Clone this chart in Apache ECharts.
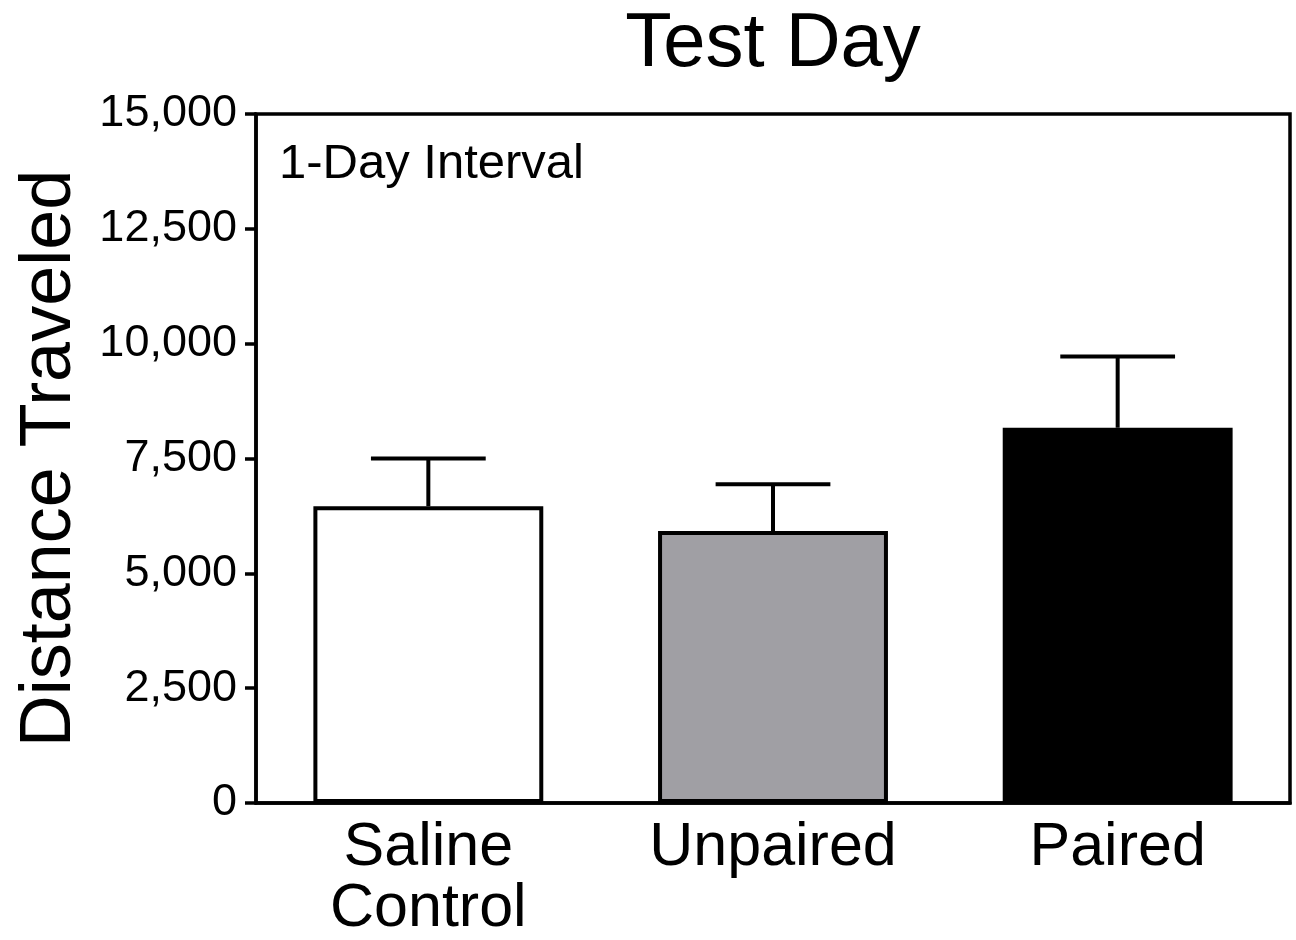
<!DOCTYPE html>
<html>
<head>
<meta charset="utf-8">
<script src="https://cdn.jsdelivr.net/npm/echarts@6/dist/echarts.min.js"></script>
<style>
  html, body { margin: 0; padding: 0; background: #fff; }
  #chart { width: 1296px; height: 940px; }
</style>
</head>
<body>
<div id="chart"></div>
<script>
var categories = ['Saline\nControl', 'Unpaired', 'Paired'];
var means = [6460, 5920, 8170];
var errorTops = [7500, 6940, 9720];
var barColors = ['#ffffff', '#a09fa4', '#000000'];
var yTicks = [0, 2500, 5000, 7500, 10000, 12500, 15000];

var font = 'Liberation Sans, Arial, Helvetica, sans-serif';
var chart = echarts.init(document.getElementById('chart'));

var option = {
    animation: false,
    title: {
        text: 'Test Day',
        left: 768,
        textAlign: 'center',
        top: 2,
        textStyle: { color: '#000', fontFamily: font, fontWeight: 'normal', fontSize: 76 }
    },
    graphic: [{
        type: 'text',
        left: 279,
        top: 140,
        style: { text: '1-Day Interval', fill: '#000', font: '49px ' + font }
    }],
    grid: {
        left: 256, right: 6, top: 114, bottom: 135,
        show: true, borderColor: '#000', borderWidth: 3.5, backgroundColor: 'transparent'
    },
    xAxis: {
        type: 'category',
        data: categories,
        axisLine: { lineStyle: { color: '#000', width: 3.5 } },
        axisTick: { show: false },
        axisLabel: { color: '#000', fontFamily: font, fontSize: 61, lineHeight: 61, margin: 15, interval: 0 }
    },
    yAxis: {
        type: 'value',
        min: 0, max: 15000, interval: 2500,
        name: 'Distance Traveled',
        nameLocation: 'middle',
        nameGap: 170,
        nameTextStyle: { color: '#000', fontFamily: font, fontSize: 72 },
        axisLine: { show: true, lineStyle: { color: '#000', width: 3.5 } },
        axisTick: { show: true, length: 11, lineStyle: { color: '#000', width: 3.5 } },
        splitLine: { show: false },
        axisLabel: {
            color: '#000', fontFamily: font, fontSize: 45, margin: 19,
            formatter: function (v) {
                return yTicks.indexOf(v) >= 0 ? v.toLocaleString('en-US') : '';
            }
        }
    },
    series: [
        {
            type: 'bar',
            barWidth: '66.7%',
            data: means.map(function (v, i) {
                return { value: v, itemStyle: { color: barColors[i] } };
            }),
            itemStyle: { borderColor: '#000', borderWidth: 4 },
            z: 2
        },
        {
            type: 'custom',
            z: 1,
            data: means.map(function (v, i) { return [i, v, errorTops[i]]; }),
            renderItem: function (params, api) {
                var base = api.coord([api.value(0), api.value(1)]);
                var top = api.coord([api.value(0), api.value(2)]);
                var half = api.size([1, 0])[0] * 0.333 / 2;
                var style = { stroke: '#000', lineWidth: 4 };
                return {
                    type: 'group',
                    children: [
                        { type: 'line', shape: { x1: base[0], y1: base[1], x2: top[0], y2: top[1] }, style: style },
                        { type: 'line', shape: { x1: top[0] - half, y1: top[1], x2: top[0] + half, y2: top[1] }, style: style }
                    ]
                };
            }
        }
    ]
};
chart.setOption(option);
</script>
</body>
</html>
